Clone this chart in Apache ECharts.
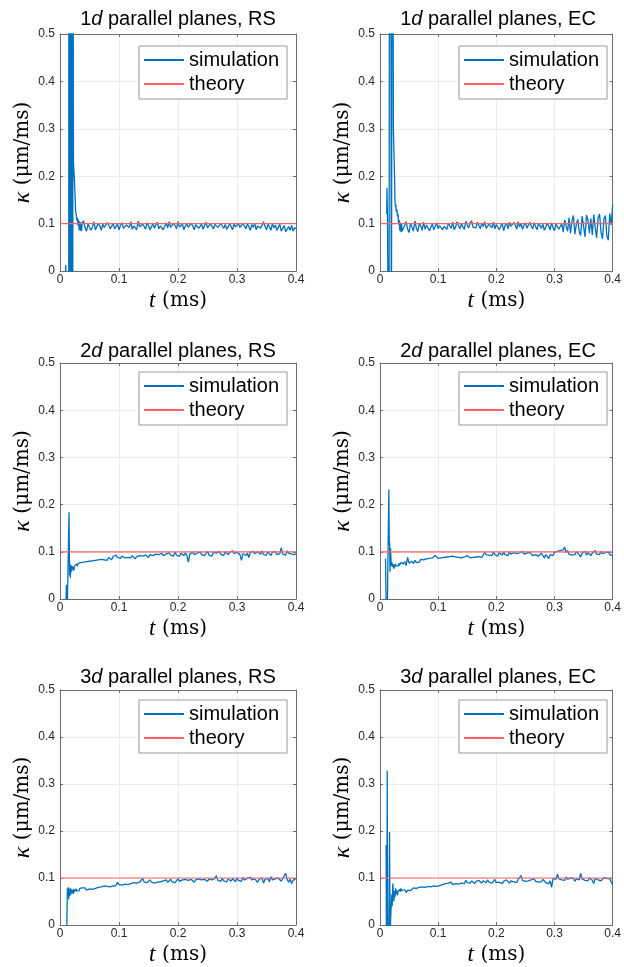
<!DOCTYPE html>
<html><head><meta charset="utf-8">
<script src="https://cdn.jsdelivr.net/npm/echarts@6/dist/echarts.min.js"></script>
<style>html,body{margin:0;padding:0;background:#fff}#c{width:624px;height:967px}</style>
</head><body><div id="c"></div><script>
// ---------- data ----------
const xTickLabels = ['0', '0.1', '0.2', '0.3', '0.4'];
const yTickLabels = ['0', '0.1', '0.2', '0.3', '0.4', '0.5'];
const theoryK = 0.1;
const seriesNames = ['simulation', 'theory'];
const panelDims = ['1', '1', '2', '2', '3', '3'];
const panelMethods = ['RS', 'EC', 'RS', 'EC', 'RS', 'EC'];

// steady part sampled every 0.0025 ms starting at 0.04 ms
const T0 = 0.04, DT = 0.0025;

// 1d RS
const tEarly1 = [0.0095,0.0098,0.0105,0.0125,0.0145,0.0150,0.0155,0.0160,0.0165,0.0170,0.0175,0.0180,0.0190,0.0200,0.0205,0.0210,0.0215,0.0220,0.0228,0.0235,0.0242,0.0250,0.0258,0.0265,0.0275,0.0285,0.0295,0.0305,0.0315,0.0325,0.0335,0.0345,0.0355,0.0365,0.0375];
const kEarly1 = [0.000,0.012,-0.5,-0.8,-0.9,-0.9,2.2,-1.8,2.0,-1.6,1.9,-0.7,-0.6,1.6,-1.2,1.5,-0.8,1.1,0.232,0.215,0.200,0.175,0.150,0.125,0.118,0.107,0.112,0.096,0.108,0.086,0.104,0.085,0.102,0.084,0.100];
const kSteady1 = [
0.106,0.091,0.084,0.099,0.102,0.086,0.093,0.104,0.087,0.085,
0.101,0.095,0.086,0.099,0.092,0.088,0.102,0.097,0.089,0.094,
0.101,0.089,0.093,0.099,0.087,0.096,0.102,0.090,0.088,0.097,
0.100,0.092,0.104,0.088,0.095,0.099,0.087,0.105,0.093,0.090,
0.099,0.094,0.088,0.102,0.096,0.087,0.093,0.100,0.090,0.097,
0.103,0.089,0.095,0.098,0.087,0.094,0.102,0.091,0.104,0.092,
0.088,0.101,0.096,0.089,0.104,0.093,0.090,0.099,0.087,0.095,
0.100,0.092,0.088,0.101,0.095,0.087,0.098,0.102,0.090,0.094,
0.099,0.088,0.096,0.103,0.091,0.087,0.100,0.094,0.089,0.098,
0.102,0.092,0.088,0.100,0.095,0.090,0.098,0.088,0.093,0.100,
0.096,0.087,0.099,0.093,0.089,0.100,0.092,0.088,0.101,0.095,
0.089,0.099,0.094,0.086,0.098,0.092,0.101,0.087,0.095,0.099,
0.090,0.088,0.104,0.094,0.087,0.099,0.093,0.086,0.100,0.091,
0.097,0.086,0.092,0.099,0.084,0.090,0.096,0.083,0.088,0.094,
0.086,0.096,0.084,0.091,0.089];

// 1d EC
const tEarly2 = [0.0115,0.0120,0.0128,0.0140,0.0150,0.0155,0.0165,0.0185,0.0195,0.0210,0.0222,0.0230,0.0240,0.0250,0.0258,0.0265,0.0272,0.0280,0.0290,0.0300,0.0310,0.0320,0.0330,0.0340,0.0350,0.0360,0.0370,0.0380];
const kEarly2 = [0.120,0.175,0.120,-0.1,-0.2,-0.3,1.2,1.0,-0.3,1.0,0.9,0.300,0.250,0.200,0.145,0.135,0.140,0.125,0.130,0.115,0.120,0.098,0.108,0.085,0.102,0.082,0.100,0.084];
const kSteady2 = [
0.082,0.097,0.104,0.088,0.081,0.101,0.092,0.084,0.106,0.090,
0.083,0.100,0.095,0.086,0.103,0.088,0.097,0.101,0.085,0.093,
0.099,0.087,0.091,0.102,0.089,0.096,0.100,0.087,0.094,0.098,
0.088,0.101,0.095,0.090,0.103,0.087,0.093,0.104,0.096,0.089,
0.100,0.093,0.088,0.105,0.097,0.091,0.101,0.106,0.092,0.095,
0.091,0.103,0.096,0.089,0.101,0.094,0.104,0.090,0.088,0.099,
0.096,0.091,0.103,0.089,0.098,0.102,0.087,0.094,0.101,0.085,
0.096,0.101,0.089,0.103,0.094,0.090,0.102,0.097,0.088,0.104,
0.093,0.100,0.088,0.096,0.102,0.090,0.087,0.103,0.095,0.089,
0.102,0.094,0.087,0.101,0.097,0.090,0.099,0.086,0.093,0.101,
0.095,0.087,0.102,0.091,0.085,0.099,0.101,0.088,0.084,0.100,
0.082,0.108,0.095,0.084,0.112,0.080,0.106,0.117,0.078,0.098,
0.109,0.083,0.075,0.116,0.094,0.072,0.118,0.108,0.080,0.111,
0.076,0.119,0.092,0.070,0.113,0.120,0.081,0.068,0.110,0.117,
0.074,0.065,0.121,0.097,0.140];

// 2d RS
const tEarly3 = [0.0100,0.0108,0.0120,0.0125,0.0153,0.0162,0.0168,0.0175,0.0185,0.0195,0.0205,0.0215,0.0225,0.0235,0.0245,0.0255,0.0265,0.0275,0.0285,0.0295,0.0305,0.0315,0.0325,0.0335,0.0345,0.0355,0.0365,0.0375];
const kEarly3 = [-0.02,0.030,-0.02,-0.01,0.184,0.050,0.075,0.045,0.072,0.058,0.070,0.062,0.068,0.060,0.070,0.066,0.072,0.068,0.074,0.069,0.075,0.071,0.076,0.072,0.077,0.074,0.078,0.075];
const kSteady3 = [
0.078,0.074,0.079,0.076,0.080,0.077,0.081,0.078,0.082,0.079,
0.083,0.080,0.084,0.081,0.083,0.086,0.082,0.088,0.085,0.083,
0.090,0.086,0.093,0.088,0.089,0.086,0.091,0.088,0.087,0.090,
0.088,0.091,0.087,0.092,0.089,0.085,0.090,0.088,0.092,0.089,
0.091,0.087,0.093,0.090,0.088,0.094,0.090,0.092,0.089,0.095,
0.091,0.094,0.090,0.097,0.092,0.089,0.095,0.091,0.098,0.093,
0.096,0.091,0.099,0.093,0.095,0.090,0.097,0.094,0.092,0.098,
0.093,0.078,0.095,0.091,0.099,0.094,0.090,0.097,0.093,0.100,
0.094,0.098,0.092,0.096,0.101,0.093,0.097,0.091,0.099,0.095,
0.097,0.093,0.101,0.095,0.098,0.092,0.100,0.096,0.094,0.099,
0.095,0.102,0.096,0.093,0.099,0.097,0.094,0.082,0.096,0.098,
0.092,0.097,0.088,0.099,0.095,0.101,0.096,0.093,0.100,0.097,
0.095,0.102,0.094,0.098,0.093,0.100,0.096,0.092,0.099,0.095,
0.101,0.094,0.098,0.096,0.109,0.095,0.099,0.093,0.102,0.097,
0.100,0.095,0.099,0.094,0.096];

// 2d EC
const tEarly4 = [0.0095,0.0110,0.0125,0.0152,0.0160,0.0165,0.0172,0.0180,0.0188,0.0195,0.0205,0.0215,0.0225,0.0235,0.0245,0.0255,0.0265,0.0275,0.0285,0.0295,0.0305,0.0315,0.0325,0.0335,0.0345,0.0355,0.0365,0.0375];
const kEarly4 = [0.085,-0.05,-0.03,0.232,0.115,0.120,0.058,0.108,0.110,0.070,0.078,0.068,0.074,0.064,0.072,0.067,0.075,0.070,0.073,0.066,0.074,0.070,0.076,0.071,0.075,0.072,0.078,0.074];
const kSteady4 = [
0.074,0.079,0.071,0.088,0.076,0.073,0.080,0.075,0.082,0.077,
0.081,0.078,0.084,0.080,0.083,0.079,0.085,0.082,0.086,0.083,
0.087,0.084,0.092,0.088,0.086,0.089,0.087,0.090,0.088,0.086,
0.089,0.087,0.090,0.088,0.091,0.087,0.089,0.092,0.088,0.090,
0.087,0.091,0.089,0.088,0.092,0.089,0.087,0.090,0.088,0.091,
0.089,0.087,0.090,0.086,0.088,0.085,0.099,0.094,0.098,0.093,
0.097,0.092,0.099,0.094,0.096,0.091,0.098,0.095,0.093,0.099,
0.094,0.097,0.092,0.100,0.095,0.093,0.098,0.094,0.096,0.092,
0.098,0.094,0.101,0.095,0.093,0.097,0.094,0.099,0.095,0.092,
0.096,0.094,0.098,0.091,0.095,0.097,0.093,0.087,0.094,0.096,
0.086,0.094,0.097,0.092,0.099,0.095,0.101,0.097,0.103,0.099,
0.104,0.110,0.098,0.103,0.095,0.099,0.093,0.097,0.094,0.100,
0.099,0.094,0.089,0.097,0.095,0.101,0.093,0.098,0.094,0.092,
0.097,0.093,0.103,0.095,0.099,0.094,0.101,0.096,0.093,0.098,
0.095,0.100,0.094,0.097,0.092];

// 3d RS
const tEarly5 = [0.0110,0.0125,0.0132,0.0140,0.0148,0.0156,0.0165,0.0175,0.0185,0.0195,0.0205,0.0215,0.0225,0.0235,0.0245,0.0255,0.0265,0.0275,0.0285,0.0295,0.0305,0.0315,0.0325,0.0335,0.0345,0.0355,0.0365,0.0375];
const kEarly5 = [-0.05,0.078,0.060,0.080,0.055,0.076,0.062,0.079,0.065,0.076,0.068,0.075,0.066,0.077,0.070,0.074,0.071,0.077,0.072,0.075,0.070,0.076,0.073,0.078,0.074,0.077,0.075,0.079];
const kSteady5 = [
0.076,0.079,0.074,0.078,0.077,0.080,0.076,0.079,0.078,0.077,
0.080,0.078,0.081,0.079,0.083,0.080,0.082,0.085,0.081,0.084,
0.083,0.087,0.084,0.091,0.086,0.089,0.085,0.088,0.087,0.090,
0.086,0.089,0.088,0.085,0.090,0.087,0.089,0.086,0.091,0.088,
0.099,0.092,0.095,0.090,0.093,0.096,0.091,0.094,0.089,0.093,
0.091,0.095,0.092,0.090,0.094,0.092,0.096,0.091,0.093,0.097,
0.092,0.095,0.090,0.094,0.098,0.093,0.091,0.096,0.094,0.097,
0.093,0.095,0.092,0.097,0.094,0.091,0.096,0.093,0.098,0.094,
0.096,0.092,0.097,0.095,0.093,0.098,0.094,0.096,0.092,0.099,
0.105,0.095,0.097,0.093,0.099,0.094,0.096,0.092,0.098,0.095,
0.093,0.099,0.096,0.092,0.100,0.095,0.097,0.093,0.101,0.096,
0.094,0.099,0.095,0.102,0.096,0.093,0.098,0.095,0.091,0.097,
0.095,0.100,0.089,0.097,0.094,0.099,0.092,0.103,0.096,0.093,
0.098,0.094,0.100,0.096,0.093,0.099,0.095,0.110,0.097,0.091,
0.098,0.088,0.095,0.097,0.099];

// 3d EC
const tEarly6 = [0.0105,0.0112,0.0118,0.0124,0.0132,0.0150,0.0164,0.0175,0.0182,0.0192,0.0200,0.0210,0.0220,0.0230,0.0240,0.0250,0.0260,0.0270,0.0280,0.0290,0.0300,0.0310,0.0320,0.0330,0.0340,0.0350,0.0360,0.0370,0.0380];
const kEarly6 = [0.170,-0.10,-0.05,0.328,-0.10,-0.08,0.198,-0.05,0.010,0.040,0.065,0.040,0.088,0.070,0.050,0.072,0.060,0.078,0.066,0.074,0.063,0.071,0.075,0.068,0.076,0.071,0.078,0.073,0.077];
const kSteady6 = [
0.071,0.075,0.069,0.074,0.077,0.073,0.076,0.079,0.075,0.078,
0.076,0.080,0.078,0.081,0.077,0.080,0.079,0.082,0.078,0.081,
0.080,0.083,0.079,0.082,0.078,0.084,0.081,0.086,0.083,0.088,
0.085,0.089,0.087,0.091,0.086,0.090,0.088,0.092,0.087,0.091,
0.089,0.093,0.088,0.095,0.090,0.092,0.089,0.094,0.091,0.088,
0.093,0.090,0.095,0.091,0.089,0.094,0.092,0.090,0.096,0.091,
0.094,0.089,0.092,0.097,0.090,0.093,0.091,0.095,0.088,0.093,
0.091,0.096,0.092,0.089,0.094,0.098,0.092,0.095,0.090,0.097,
0.093,0.105,0.095,0.099,0.093,0.097,0.094,0.092,0.096,0.094,
0.098,0.093,0.096,0.091,0.095,0.092,0.097,0.094,0.090,0.093,
0.088,0.094,0.080,0.099,0.103,0.097,0.108,0.098,0.101,0.096,
0.099,0.095,0.102,0.097,0.094,0.100,0.096,0.099,0.093,0.098,
0.101,0.096,0.110,0.098,0.102,0.095,0.099,0.094,0.100,0.097,
0.095,0.088,0.099,0.102,0.096,0.100,0.094,0.098,0.101,0.097,
0.099,0.095,0.098,0.094,0.086];

const tEarly = [tEarly1, tEarly2, tEarly3, tEarly4, tEarly5, tEarly6];
const kEarly = [kEarly1, kEarly2, kEarly3, kEarly4, kEarly5, kEarly6];
const kSteady = [kSteady1, kSteady2, kSteady3, kSteady4, kSteady5, kSteady6];

// ---------- layout ----------
const colLeft = [60, 380];
const rowTop = [34, 363, 690];
const rowH = [237, 236, 236];
const gridW = 236;
const titleTop = [9, 341, 667];
const legendTop = [46, 372, 700];
const legendLeft = [139, 459];

const BLUE = '#0072BD', RED = '#ff6262', AX = '#6e6e6e', LBL = '#262626';
const sans = 'Liberation Sans';
const serif = 'DejaVu Serif';
const lserif = 'Liberation Serif';

const grids = [], xAxes = [], yAxes = [], series = [], titles = [], legends = [];
for (let p = 0; p < 6; p++) {
  const r = Math.floor(p / 2), c = p % 2;
  grids.push({ left: colLeft[c], top: rowTop[r], width: gridW, height: rowH[r] });
  titles.push({
    text: '{n|' + panelDims[p] + '}{i|d}{n| parallel planes, ' + panelMethods[p] + '}',
    left: colLeft[c] + gridW / 2, top: titleTop[r], textAlign: 'center', padding: 0,
    textStyle: { fontWeight: 'normal', rich: {
      n: { fontFamily: sans, fontSize: 20, color: '#000', fontWeight: 'normal' },
      i: { fontFamily: sans, fontSize: 20, color: '#000', fontStyle: 'italic', fontWeight: 'normal' }
    } }
  });
  legends.push({
    orient: 'vertical', left: legendLeft[c], top: legendTop[r],
    padding: [4, 8, 5, 5], itemWidth: 40, itemHeight: 2, itemGap: 4,
    icon: 'rect',
    borderColor: '#9a9a9a', borderWidth: 1, backgroundColor: '#fff',
    textStyle: { fontFamily: sans, fontSize: 20, color: '#000', lineHeight: 20 },
    data: seriesNames.slice()
  });
  const common = {
    gridIndex: p, type: 'value',
    axisLine: { show: true, onZero: false, lineStyle: { color: AX, width: 1 } },
    axisTick: { show: true, inside: true, length: 3, lineStyle: { color: AX } }
  };
  xAxes.push(Object.assign({}, common, {
    min: 0, max: 0.4, interval: 0.1, position: 'bottom',
    axisLabel: { margin: 3, color: LBL, fontSize: 12, fontFamily: sans,
      formatter: v => xTickLabels[Math.round(v / 0.1)] },
    splitLine: { show: true, lineStyle: { color: '#ebebeb', width: 1 } },
    name: '{i|t}  {n|(ms)}', nameLocation: 'middle', nameGap: 18,
    nameTextStyle: { rich: {
      i: { fontFamily: lserif, fontSize: 23, fontStyle: 'italic', color: '#000' },
      n: { fontFamily: serif, fontSize: 20, color: '#000' }
    } }
  }));
  xAxes.push(Object.assign({}, common, {
    min: 0, max: 0.4, interval: 0.1, position: 'top',
    axisLabel: { show: false }, splitLine: { show: false }
  }));
  yAxes.push(Object.assign({}, common, {
    min: 0, max: 0.5, interval: 0.1, position: 'left',
    axisLabel: { margin: 5, color: LBL, fontSize: 12, fontFamily: sans,
      formatter: v => yTickLabels[Math.round(v / 0.1)] },
    splitLine: { show: true, lineStyle: { color: '#ebebeb', width: 1 } },
    name: '{i|κ}  {n|(μm/ms)}', nameLocation: 'middle', nameGap: 25, nameRotate: 90,
    nameTextStyle: { rich: {
      i: { fontFamily: lserif, fontSize: 24, fontStyle: 'italic', color: '#000' },
      n: { fontFamily: serif, fontSize: 20, color: '#000' }
    } }
  }));
  yAxes.push(Object.assign({}, common, {
    min: 0, max: 0.5, interval: 0.1, position: 'right',
    axisLabel: { show: false }, splitLine: { show: false }
  }));
  const data = tEarly[p].map((t, i) => [t, kEarly[p][i]])
    .concat(kSteady[p].map((k, i) => [T0 + i * DT, k]));
  series.push({
    name: seriesNames[0], type: 'line', xAxisIndex: 2 * p, yAxisIndex: 2 * p,
    data: data, symbol: 'none', showSymbol: false, clip: true,
    lineStyle: { color: BLUE, width: 1.3 }, itemStyle: { color: BLUE }, z: 3
  });
  series.push({
    name: seriesNames[1], type: 'line', xAxisIndex: 2 * p, yAxisIndex: 2 * p,
    data: [[0, theoryK], [0.4, theoryK]], symbol: 'none', showSymbol: false,
    lineStyle: { color: RED, width: 1.2 }, itemStyle: { color: RED }, z: 4
  });
}

const chart = echarts.init(document.getElementById('c'), null, { renderer: 'canvas' });
chart.setOption({
  animation: false, backgroundColor: '#fff',
  title: titles, legend: legends, grid: grids,
  xAxis: xAxes, yAxis: yAxes, series: series
});
</script></body></html>
